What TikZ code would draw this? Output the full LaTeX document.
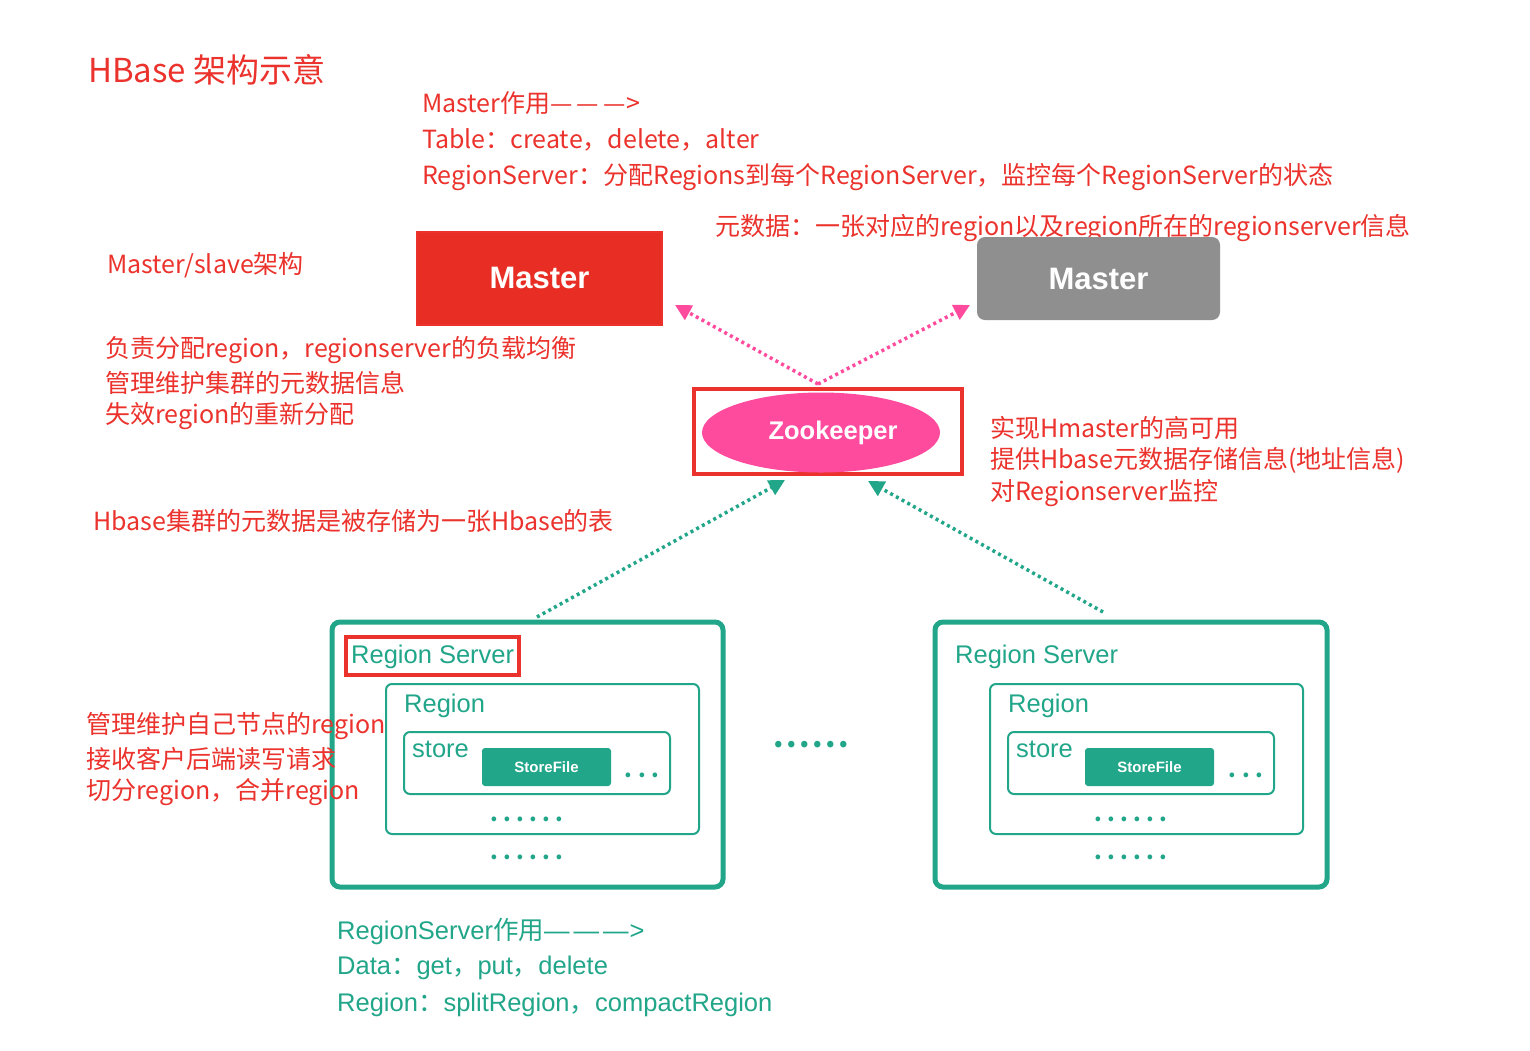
\documentclass[tikz,border=0pt]{standalone}
\usepackage{fontspec}
\setmainfont{Noto Sans CJK SC}
\newfontfamily\latinb{Liberation Sans}
\usetikzlibrary{arrows.meta,shapes.geometric}
\definecolor{hred}{RGB}{235,50,44}
\definecolor{mred}{RGB}{232,46,36}
\definecolor{hgreen}{RGB}{34,166,138}
\definecolor{hpink}{RGB}{255,75,158}
\definecolor{hgrey}{RGB}{143,143,143}
\newcommand{\tridash}{—\kern4pt—\kern4pt—\kern1pt>}
\tikzset{
  rtext/.style={anchor=west,inner sep=0pt,text=hred,font=\fontsize{25}{30}\selectfont},
  gtext/.style={anchor=west,inner sep=0pt,text=hgreen,font=\latinb\fontsize{25.5}{30}\selectfont},
  rsbox/.style={draw=hgreen,line width=5pt,rounded corners=8pt},
  regbox/.style={draw=hgreen,line width=2pt,rounded corners=6pt},
  sfbox/.style={fill=hgreen,rounded corners=3pt,text=white,font=\latinb\bfseries\fontsize{15}{18}\selectfont},
  pinkdot/.style={hpink,line width=3.5pt,dash pattern=on 3pt off 3.5pt,-{Triangle[length=16pt,width=16pt]}},
  greendot/.style={hgreen,line width=3.5pt,dash pattern=on 3pt off 3.5pt,-{Triangle[length=16pt,width=16pt]}},
  dotsrow/.style={text=hgreen,inner sep=0pt,font=\bfseries\fontsize{22}{24}\selectfont\addfontfeature{LetterSpace=24}}
}
\begin{document}
\begin{tikzpicture}[x=1pt,y=-1pt]
\useasboundingbox[fill=white] (0,0) rectangle (1530,1050);
% title
\node[rtext,font=\fontsize{33}{36}\selectfont] (title) at (88,70) {HBase 架构示意};
% master role
\node[rtext] (mr1) at (422,103) {Master作用\tridash};
\node[rtext] (mr2) at (422,140) {Table：create，delete，alter};
\node[rtext] (mr3) at (422,177) {RegionServer：分配Regions到每个RegionServer，监控每个RegionServer的状态};
\node[rtext] (meta) at (715,228) {元数据：一张对应的region以及region所在的regionserver信息};
\node[rtext] (ms) at (107,265) {Master/slave架构};
% masters
\node[draw=hred,line width=2pt,fill=mred,minimum width=245pt,minimum height=93pt,inner sep=0pt,
      text=white,font=\latinb\bfseries\fontsize{31}{34}\selectfont] (m1) at (539.5,278) {Master};
\node[fill=hgrey,rounded corners=8pt,minimum width=243pt,minimum height=83pt,inner sep=0pt,
      text=white,font=\latinb\bfseries\fontsize{31}{34}\selectfont] (m2) at (1098.5,278.5) {Master};
% left master text
\node[rtext] (l1) at (105,350) {负责分配region，regionserver的负载均衡};
\node[rtext] (l2) at (105,383) {管理维护集群的元数据信息};
\node[rtext] (l3) at (105,416) {失效region的重新分配};
% zookeeper
\node[draw=hred,line width=4pt,minimum width=268pt,minimum height=85pt,inner sep=0pt] (zkbox) at (828,431.5) {};
\node[ellipse,fill=hpink,minimum width=238pt,minimum height=80pt,inner sep=0pt] (zk) at (821,432.5) {};
\node[text=white,inner sep=0pt,font=\latinb\bfseries\fontsize{25.5}{30}\selectfont] (zkt) at (833,433) {Zookeeper};
% right zk text
\node[rtext] (z1) at (990,428) {实现Hmaster的高可用};
\node[rtext] (z2) at (990,460) {提供Hbase元数据存储信息(地址信息)};
\node[rtext] (z3) at (990,493) {对Regionserver监控};
\node[rtext] (hb) at (93,521) {Hbase集群的元数据是被存储为一张Hbase的表};
% arrows
\coordinate (ztop) at (818,384);
\coordinate (m1tip) at (675,305);
\coordinate (m2tip) at (970,305);
\draw[pinkdot] (ztop) -- (m1tip);
\draw[pinkdot] (ztop) -- (m2tip);
% region servers
\node[rsbox,minimum width=391pt,minimum height=265pt,inner sep=0pt] (rs1) at (527.5,754.5) {};
\node[rsbox,minimum width=392pt,minimum height=265pt,inner sep=0pt] (rs2) at (1131,754.5) {};
\coordinate (g1s) at (537,617);
\coordinate (g1t) at (785,480);
\coordinate (g2s) at (1103,612);
\coordinate (g2t) at (868,481);
\draw[greendot] (g1s) -- (g1t);
\draw[greendot] (g2s) -- (g2t);
% left RS
\node[draw=hred,line width=3.5pt,minimum width=173pt,minimum height=38pt,inner sep=0pt] (rsred) at (432.5,656) {};
\node[gtext] (rs1t) at (351,657) {Region Server};
\node[regbox,minimum width=313pt,minimum height=150pt,inner sep=0pt] (reg1) at (542.5,759) {};
\node[gtext] (reg1t) at (404,706) {Region};
\node[regbox,minimum width=266pt,minimum height=62pt,inner sep=0pt] (st1) at (537,763) {};
\node[gtext] (st1t) at (412,749) {store};
\node[sfbox,minimum width=129pt,minimum height=38pt,inner sep=0pt] (sf1) at (546.5,767) {StoreFile};
\node[dotsrow,font=\bfseries\fontsize{22}{24}\selectfont\addfontfeature{LetterSpace=26}] (d1a) at (642,775) {...};
\node[dotsrow] (d1b) at (527,819) {......};
\node[dotsrow] (d1c) at (527,857) {......};
% right RS
\node[gtext] (rs2t) at (955,657) {Region Server};
\node[regbox,minimum width=313pt,minimum height=150pt,inner sep=0pt] (reg2) at (1146.5,759) {};
\node[gtext] (reg2t) at (1008,706) {Region};
\node[regbox,minimum width=266pt,minimum height=62pt,inner sep=0pt] (st2) at (1141,763) {};
\node[gtext] (st2t) at (1016,749) {store};
\node[sfbox,minimum width=129pt,minimum height=38pt,inner sep=0pt] (sf2) at (1149.5,767) {StoreFile};
\node[dotsrow,font=\bfseries\fontsize{22}{24}\selectfont\addfontfeature{LetterSpace=26}] (d2a) at (1246,775) {...};
\node[dotsrow] (d2b) at (1131,819) {......};
\node[dotsrow] (d2c) at (1131,857) {......};
% middle dots
\node[dotsrow,font=\bfseries\fontsize{30}{32}\selectfont\addfontfeature{LetterSpace=8}] (dm) at (811,745) {......};
% left RS text
\node[rtext] (r1) at (86,726) {管理维护自己节点的region};
\node[rtext] (r2) at (86,759) {接收客户后端读写请求};
\node[rtext] (r3) at (86,792) {切分region，合并region};
% bottom
\node[gtext] (b1) at (337,931) {RegionServer{\rmfamily 作用}\tridash};
\node[gtext] (b2) at (337,968) {Data{\rmfamily ：}get{\rmfamily ，}put{\rmfamily ，}delete};
\node[gtext] (b3) at (337,1005) {Region{\rmfamily ：}splitRegion{\rmfamily ，}compactRegion};
\end{tikzpicture}
\end{document}
